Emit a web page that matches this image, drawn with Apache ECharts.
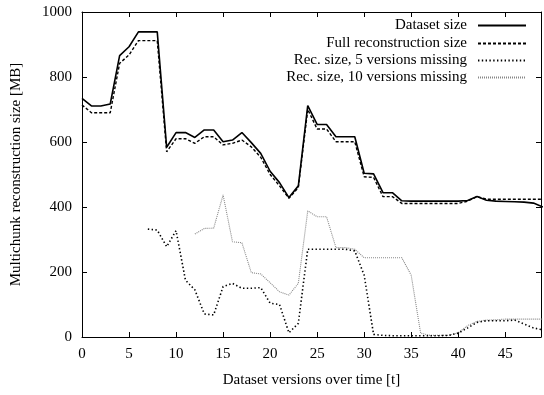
<!DOCTYPE html>
<html>
<head>
<meta charset="utf-8">
<script src="https://cdn.jsdelivr.net/npm/echarts@6/dist/echarts.min.js"></script>
<style>
html,body{margin:0;padding:0;background:#fff;}
#c{width:544px;height:395px;}
</style>
</head>
<body>
<div id="c"></div>
<script>
const versions = Array.from({length: 50}, (_, i) => i);
const datasetSize = [734, 711, 711, 717, 866, 893, 939, 939, 939, 584, 629, 629, 614, 637, 637, 601, 606, 629, 598, 565, 510, 475, 429, 465, 712, 654, 654, 616, 616, 616, 504, 502, 444, 444, 419, 418, 418, 418, 418, 418, 418, 420, 432, 421, 418, 417, 416, 415, 412, 400];
const fullRecSize = [714, 690, 690, 690, 842, 868, 912, 912, 912, 570, 610, 610, 596, 616, 616, 591, 596, 606, 585, 553, 500, 465, 427, 460, 700, 640, 640, 601, 601, 601, 493, 491, 432, 432, 411, 411, 411, 411, 411, 411, 411, 418, 432, 424, 424, 424, 424, 424, 424, 424];
const rec5Missing = [null, null, null, null, null, null, null, 332, 329, 278, 327, 175, 145, 71, 68, 155, 165, 150, 150, 152, 104, 100, 13, 42, 270, 270, 270, 270, 270, 265, 190, 8, 5, 4, 4, 4, 4, 4, 4, 5, 12, 28, 45, 50, 50, 50, 52, 40, 28, 22];
const rec10Missing = [null, null, null, null, null, null, null, null, null, null, null, null, 317, 334, 335, 437, 293, 290, 198, 194, 167, 139, 129, 165, 388, 370, 370, 275, 275, 270, 244, 244, 244, 244, 244, 190, 12, 5, 5, 5, 13, 35, 48, 52, 53, 55, 55, 55, 55, 55];
const seriesNames = ['Dataset size', 'Full reconstruction size', 'Rec. size, 5 versions missing', 'Rec. size, 10 versions missing'];
const xTicks = [0, 5, 10, 15, 20, 25, 30, 35, 40, 45];
const yTicks = [0, 200, 400, 600, 800, 1000];

const FONT = 'Liberation Serif';
const pair = arr => versions.map((v, i) => [v, arr[i]]);

const styles = [
  {color: '#000', width: 1.6, type: 'solid'},
  {color: '#000', width: 1.4, type: [3, 2]},
  {color: '#000', width: 1.6, type: [1.4, 2.4]},
  {color: '#888', width: 1.1, type: [1, 1]}
];
const datas = [datasetSize, fullRecSize, rec5Missing, rec10Missing];

const series = seriesNames.map((n, k) => ({
  name: n,
  type: 'line',
  data: pair(datas[k]),
  symbol: 'none',
  connectNulls: false,
  clip: true,
  animation: false,
  lineStyle: {color: styles[k].color, width: styles[k].width, type: styles[k].type},
  itemStyle: {color: styles[k].color},
  z: 10 - k
}));

const legendTops = [13, 31, 48, 65];
const legends = seriesNames.map((n, k) => ({
  data: [n],
  orient: 'vertical',
  align: 'right',
  right: 12,
  top: legendTops[k],
  itemWidth: 48,
  itemHeight: 14,
  selectedMode: false,
  itemStyle: {opacity: 0},
  textStyle: {fontFamily: FONT, fontSize: 15, color: '#000', padding: [0, 6, 0, 0]}
}));

const tickFmt = v => (xTicks.indexOf(v) >= 0 ? String(v) : '');

const option = {
  backgroundColor: '#fff',
  animation: false,
  legend: legends,
  grid: {left: 82, right: -3, top: 12, bottom: 58, containLabel: false},
  xAxis: [{
    type: 'value', min: 0, max: 48.8, interval: 5, position: 'bottom',
    name: 'Dataset versions over time [t]', nameLocation: 'middle', nameGap: 36,
    nameTextStyle: {fontFamily: FONT, fontSize: 15, color: '#000'},
    axisLine: {show: true, onZero: false, lineStyle: {color: '#000', width: 1}},
    axisTick: {show: true, inside: true, length: 5, lineStyle: {color: '#000'}},
    axisLabel: {fontFamily: FONT, fontSize: 15, color: '#000', margin: 10, formatter: tickFmt},
    splitLine: {show: false}
  }, {
    type: 'value', min: 0, max: 48.8, interval: 5, position: 'top',
    axisLine: {show: true, onZero: false, lineStyle: {color: '#000', width: 1}},
    axisTick: {show: true, inside: true, length: 5, lineStyle: {color: '#000'}},
    axisLabel: {show: false},
    splitLine: {show: false}
  }],
  yAxis: [{
    type: 'value', min: 0, max: 1000, interval: 200, position: 'left',
    name: 'Multichunk reconstruction size [MB]', nameLocation: 'middle', nameGap: 58, nameRotate: 90,
    nameTextStyle: {fontFamily: FONT, fontSize: 15, color: '#000'},
    axisLine: {show: true, onZero: false, lineStyle: {color: '#000', width: 1}},
    axisTick: {show: true, inside: true, length: 5, lineStyle: {color: '#000'}},
    axisLabel: {fontFamily: FONT, fontSize: 15, color: '#000', margin: 10,
      formatter: v => (yTicks.indexOf(v) >= 0 ? String(v) : '')},
    splitLine: {show: false}
  }, {
    type: 'value', min: 0, max: 1000, interval: 200, position: 'right',
    axisLine: {show: true, onZero: false, lineStyle: {color: '#000', width: 1}},
    axisTick: {show: true, inside: true, length: 5, lineStyle: {color: '#000'}},
    axisLabel: {show: false},
    splitLine: {show: false}
  }],
  series: series
};

const chart = echarts.init(document.getElementById('c'), null, {renderer: 'canvas'});
chart.setOption(option);
</script>
</body>
</html>
